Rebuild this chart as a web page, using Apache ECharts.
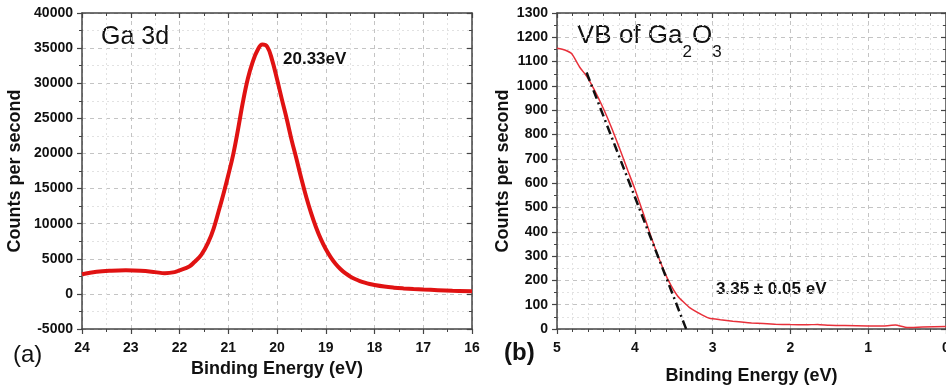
<!DOCTYPE html>
<html>
<head>
<meta charset="utf-8">
<script src="https://cdn.jsdelivr.net/npm/echarts@6/dist/echarts.min.js"></script>
<style>
  html, body { margin: 0; padding: 0; background: #fff; }
  #chart { width: 946px; height: 391px; }
</style>
</head>
<body>
<div id="chart"></div>
<script>
// (a) Ga 3d core level
var ga3dEnergy = [24.0, 23.7, 23.4, 23.1, 22.8, 22.5, 22.3, 22.1, 22.0, 21.8, 21.7, 21.55, 21.4, 21.3, 21.2, 21.1,
  21.0, 20.9, 20.8, 20.7, 20.6, 20.5, 20.4, 20.3, 20.2, 20.1, 20.0, 19.9, 19.8, 19.7, 19.6, 19.5, 19.4, 19.3,
  19.2, 19.1, 19.0, 18.9, 18.8, 18.7, 18.6, 18.5, 18.4, 18.3, 18.2, 18.1, 18.0, 17.8, 17.6, 17.4, 17.2, 17.0,
  16.7, 16.4, 16.0];
var ga3dCounts = [2800, 3150, 3300, 3350, 3280, 3100, 2950, 3100, 3350, 3900, 4500, 5600, 7500, 9300, 11700, 14200,
  16900, 19800, 23400, 27300, 30600, 33000, 34700, 35500, 35200, 33300, 30600, 27700, 24900, 21900, 19200, 16400, 13800, 11500,
  9500, 7800, 6400, 5250, 4300, 3550, 2950, 2480, 2120, 1830, 1600, 1410, 1260, 1040, 890, 780, 690, 620,
  530, 450, 380];

// (b) valence band
var vbEnergy = [5.0, 4.9, 4.81, 4.71, 4.62, 4.52, 4.41, 4.30, 4.20, 4.09, 4.0, 3.89, 3.79, 3.68, 3.57, 3.45,
  3.30, 3.13, 3.04, 2.9, 2.74, 2.5, 2.2, 2.0, 1.8, 1.65, 1.5, 1.3, 1.0, 0.8, 0.65, 0.5, 0.3, 0.0];
var vbCounts = [1155, 1148, 1132, 1078, 1040, 984, 911, 829, 747, 652, 577, 475, 379, 283, 201, 136,
  89, 57, 44, 38, 32, 25, 20, 18, 17, 19, 15, 14, 12, 12, 16, 6, 8, 10];

// linear extrapolation of the leading edge
var fitEnergy = [4.62, 3.34];
var fitCounts = [1055, 0];

function pairs(xs, ys) {
  return xs.map(function (x, i) { return [x, ys[i]]; });
}

var chart = echarts.init(document.getElementById('chart'));

var frame = { show: true, onZero: false, lineStyle: { color: '#444', width: 1.5 } };
var labelStyle = { color: '#111', fontSize: 14, fontWeight: 'bold', fontFamily: 'Liberation Sans, Arial' };
var nameStyle = { color: '#111', fontSize: 18, fontWeight: 'bold', fontFamily: 'Liberation Sans, Arial' };
var grid1 = { show: true, lineStyle: { color: '#c4c4c4', type: [4, 4], width: 1 } };
var grid2 = { show: true, lineStyle: { color: '#e2e2e2', type: [2, 3], width: 1 } };

function mainX(idx, min, max, minorN) {
  return {
    type: 'value', gridIndex: idx, min: min, max: max, interval: 1, inverse: true, position: 'bottom',
    axisLine: frame,
    axisTick: { show: true, inside: false, length: 5, lineStyle: { color: '#444', width: 1.2 } },
    minorTick: { show: true, splitNumber: minorN, length: 3, lineStyle: { color: '#444' } },
    splitLine: grid1, minorSplitLine: grid2,
    axisLabel: Object.assign({ margin: 12, showMaxLabel: true, showMinLabel: true }, labelStyle),
    name: 'Binding Energy (eV)', nameLocation: 'middle', nameTextStyle: nameStyle
  };
}
function mirrorX(idx, min, max, minorN) {
  return {
    type: 'value', gridIndex: idx, min: min, max: max, interval: 1, inverse: true, position: 'top',
    axisLine: frame,
    axisTick: { show: true, inside: true, length: 5, lineStyle: { color: '#444', width: 1.2 } },
    minorTick: { show: true, splitNumber: minorN, length: 3, lineStyle: { color: '#444' } },
    splitLine: { show: false }, axisLabel: { show: false }
  };
}
function mainY(idx, min, max, step) {
  return {
    type: 'value', gridIndex: idx, min: min, max: max, interval: step, position: 'left',
    axisLine: frame,
    axisTick: { show: true, inside: false, length: 5, lineStyle: { color: '#444', width: 1.2 } },
    minorTick: { show: true, splitNumber: 2, length: 3, lineStyle: { color: '#444' } },
    splitLine: grid1, minorSplitLine: grid2,
    axisLabel: Object.assign({ margin: 9, formatter: function (v) { return String(v); } }, labelStyle),
    name: 'Counts per second', nameLocation: 'middle', nameTextStyle: nameStyle
  };
}
function mirrorY(idx, min, max, step) {
  return {
    type: 'value', gridIndex: idx, min: min, max: max, interval: step, position: 'right',
    axisLine: frame,
    axisTick: { show: true, inside: true, length: 5, lineStyle: { color: '#444', width: 1.2 } },
    minorTick: { show: true, splitNumber: 2, length: 3, lineStyle: { color: '#444' } },
    splitLine: { show: false }, axisLabel: { show: false }
  };
}

var xa = mainX(0, 16, 24, 2); xa.nameGap = 30;
var xb = mainX(1, 0, 5, 5); xb.nameGap = 38;
var ya = mainY(0, -5000, 40000, 5000); ya.nameGap = 58;
var yb = mainY(1, 0, 1300, 100); yb.nameGap = 45;

var option = {
  animation: false,
  backgroundColor: '#fff',
  grid: [
    { left: 82, top: 13, width: 390, height: 316, outerBoundsMode: 'none' },
    { left: 557, top: 13, width: 389, height: 316, outerBoundsMode: 'none' }
  ],
  xAxis: [xa, mirrorX(0, 16, 24, 2), xb, mirrorX(1, 0, 5, 5)],
  yAxis: [ya, mirrorY(0, -5000, 40000, 5000), yb, mirrorY(1, 0, 1300, 100)],
  series: [
    {
      type: 'line', xAxisIndex: 0, yAxisIndex: 0, showSymbol: false, smooth: 0.4,
      lineStyle: { color: '#e01212', width: 4 },
      data: pairs(ga3dEnergy, ga3dCounts)
    },
    {
      type: 'line', xAxisIndex: 2, yAxisIndex: 2, showSymbol: false, smooth: 0.15,
      lineStyle: { color: '#e8303a', width: 1.5 },
      data: pairs(vbEnergy, vbCounts)
    },
    {
      type: 'line', xAxisIndex: 2, yAxisIndex: 2, showSymbol: false, z: 3,
      lineStyle: { color: '#111', width: 2.5, type: [9, 4, 2, 4] },
      data: pairs(fitEnergy, fitCounts)
    }
  ],
  graphic: [
    { type: 'text', left: 101, top: 25, style: { text: 'Ga 3d', font: '25px "Liberation Sans", Arial', fill: '#111' } },
    { type: 'text', left: 283, top: 51, style: { text: '20.33eV', font: 'bold 17px "Liberation Sans", Arial', fill: '#111' } },
    { type: 'text', left: 13, top: 343, style: { text: '(a)', font: '24px "Liberation Sans", Arial', fill: '#111' } },
    { type: 'text', left: 504, top: 341, style: { text: '(b)', font: 'bold 24px "Liberation Sans", Arial', fill: '#111' } },
    { type: 'text', left: 716, top: 281, style: { text: '3.35 \u00b1 0.05 eV', font: 'bold 17px "Liberation Sans", Arial', fill: '#111' } },
    {
      type: 'text', left: 577, top: 23,
      style: {
        text: '{m|VB of Ga}{s|2}{m|O}{s|3}',
        fill: '#111',
        rich: {
          m: { fontSize: 26, lineHeight: 30, verticalAlign: 'top', fontFamily: 'Liberation Sans, Arial', fill: '#111' },
          s: { fontSize: 17, lineHeight: 17, verticalAlign: 'top', padding: [21, 0, 0, 0], fontFamily: 'Liberation Sans, Arial', fill: '#111' }
        }
      }
    }
  ]
};
chart.setOption(option);
</script>
</body>
</html>
